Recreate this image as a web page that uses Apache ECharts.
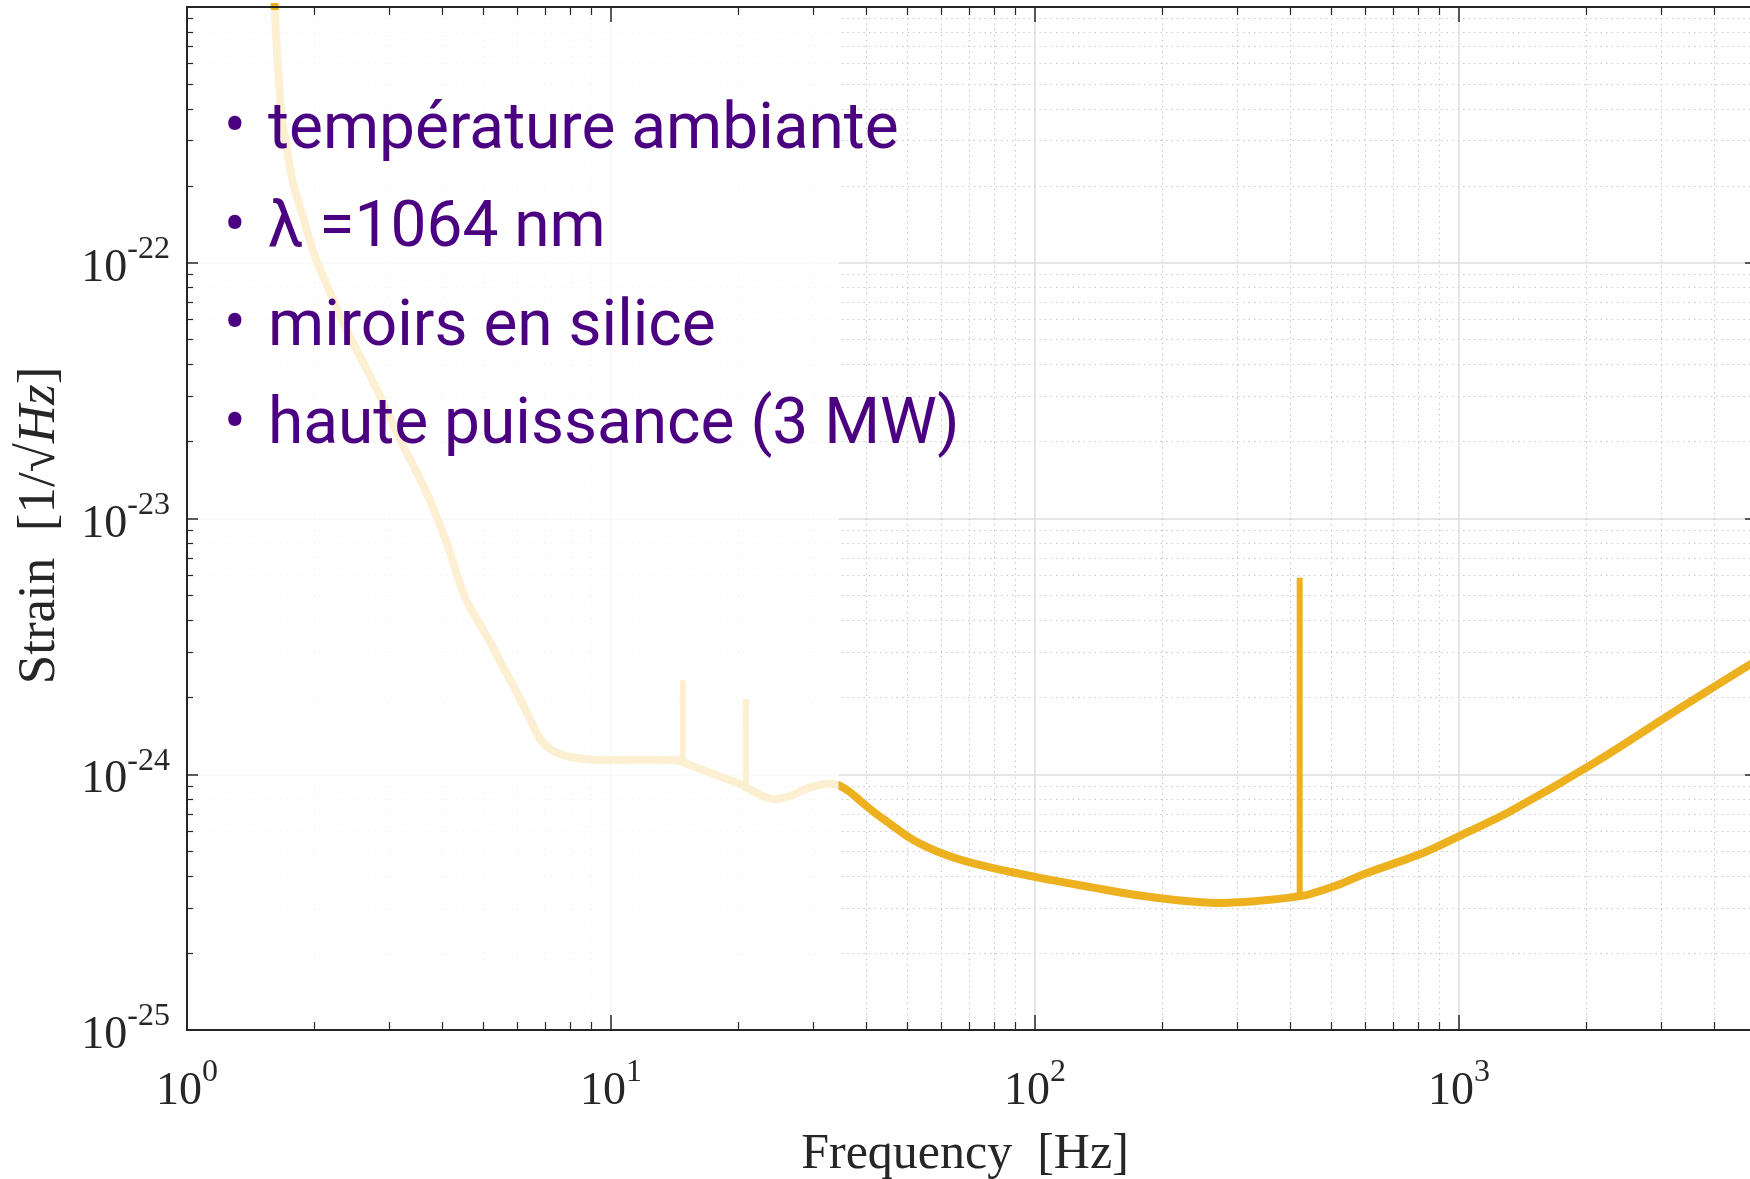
<!DOCTYPE html>
<html>
<head>
<meta charset="utf-8">
<script src="https://cdn.jsdelivr.net/npm/echarts@6/dist/echarts.min.js"></script>
<style>
  html, body { margin: 0; padding: 0; background: #fff; }
  #chart { width: 1750px; height: 1179px; }
</style>
</head>
<body>
<div id="chart"></div>
<script>
// sensitivity curve (Hz, 1/sqrt(Hz))
const freqHz = [
  1.56, 1.61, 1.67, 1.72, 1.78, 1.88, 1.99, 2.15, 2.35, 2.58, 2.84, 3.2, 3.65, 4.1, 4.53,
  5.13, 5.55, 6.0, 6.4, 6.79, 7.22, 7.7, 8.18, 9.57, 11.1, 12.7, 14.3, 14.77,
  15.25, 16.5, 17.8, 19.0, 20.2, 20.8, 22.2, 24.3, 26.7, 28.5, 30.2, 32.7, 34.4,
  36.5, 39.3, 42, 45.4, 51.5, 61.8, 74, 102, 135, 173, 220, 267, 330, 402, 421,
  440, 520, 602, 822, 1050, 1309, 2089, 3334, 4810, 5200
];
const strain = [
  4e-21, 1.0e-21, 3.8e-22, 2.8e-22, 2.04e-22, 1.5e-22, 1.09e-22, 8.0e-23, 5.7e-23, 4.2e-23, 3.06e-23, 2.0e-23, 1.29e-23, 8.0e-24, 4.9e-24,
  3.4e-24, 2.65e-24, 2.08e-24, 1.68e-24, 1.38e-24, 1.25e-24, 1.19e-24, 1.16e-24, 1.135e-24, 1.14e-24, 1.14e-24, 1.135e-24, 1.12e-24,
  1.09e-24, 1.04e-24, 9.9e-25, 9.5e-25, 9.15e-25, 8.9e-25, 8.4e-25, 7.98e-25, 8.27e-25, 8.7e-25, 8.97e-25, 9.2e-25, 9.06e-25,
  8.55e-25, 7.7e-25, 7.05e-25, 6.42e-25, 5.55e-25, 4.83e-25, 4.42e-25, 3.94e-25, 3.62e-25, 3.37e-25, 3.21e-25, 3.14e-25, 3.19e-25, 3.30e-25, 3.34e-25,
  3.38e-25, 3.7e-25, 4.09e-25, 4.92e-25, 5.95e-25, 7.1e-25, 1.11e-24, 1.82e-24, 2.66e-24, 2.85e-24
];
// narrow resonance lines
const spikeFreq = [14.77, 20.8, 421];
const spikeLow = [1.12e-24, 8.9e-25, 3.34e-25];
const spikeHigh = [2.33e-24, 1.97e-24, 5.87e-24];

// y axis runs in units of 1e-25 so that log minor ticks land on 2..9
const strainUnit = 1e-25;
const strainExp0 = -25;
// part of the band that is greyed out (Hz)
const fadedBand = [1, 34.4];
const bullets = ['température ambiante', 'λ =1064 nm', 'miroirs en silice', 'haute puissance (3 MW)'];

const serif = 'Liberation Serif';
const ink = '#262626';
const curveColor = '#EDB120';

function powLabel(shift, hideAt) {
  return function (v) {
    const lg = Math.log10(v);
    const e = Math.round(lg);
    if (Math.abs(lg - e) > 1e-6 || e === hideAt) return '';
    return '{b|10}{s|' + (e + shift) + '}';
  };
}
const powRich = {
  b: { fontFamily: serif, fontSize: 46, lineHeight: 58, verticalAlign: 'bottom', color: ink },
  s: { fontFamily: serif, fontSize: 32, lineHeight: 20, verticalAlign: 'top', color: ink }
};

const xRange = { type: 'log', logBase: 10, min: 1, max: 10000 };
const yRange = { type: 'log', logBase: 10, min: 1, max: 10000 };

function gridAxis(base, pos) {
  return Object.assign({}, base, {
    position: pos, z: 0,
    axisLine: { show: false }, axisTick: { show: false }, axisLabel: { show: false },
    splitLine: { show: true, lineStyle: { color: '#dedede', width: 1.5 } },
    minorTick: { show: false, splitNumber: 9 },
    minorSplitLine: { show: true, lineStyle: { color: '#c8c8c8', type: [1.5, 4], width: 1 } }
  });
}

function boxAxis(base, extra, tickLen, minorLen) {
  return Object.assign({}, base, {
    z: 10,
    axisLine: { show: true, lineStyle: { color: ink, width: 2 } },
    axisTick: { show: true, inside: true, length: tickLen, lineStyle: { color: ink, width: 1.5 } },
    minorTick: { show: true, splitNumber: 9, length: minorLen, lineStyle: { color: ink, width: 1.2 } },
    splitLine: { show: false },
    axisLabel: { show: false }
  }, extra);
}

const spikeData = [];
spikeFreq.forEach((f, i) => {
  spikeData.push([f, spikeLow[i] / strainUnit], [f, spikeHigh[i] / strainUnit], [f, spikeLow[i] / strainUnit], null);
});

const chart = echarts.init(document.getElementById('chart'));
chart.setOption({
  animation: false,
  backgroundColor: '#fff',
  grid: { left: 187, top: 7, width: 1696, height: 1023, containLabel: false, outerBoundsMode: 'none' },
  xAxis: [
    boxAxis(xRange, {
      position: 'bottom',
      axisLabel: { show: true, margin: 27, formatter: powLabel(0, null), rich: powRich, hideOverlap: false },
      name: 'Frequency  [Hz]', nameLocation: 'middle', nameGap: 100, nameMoveOverlap: false,
      nameTextStyle: { fontFamily: serif, fontSize: 50, color: ink, padding: [0, 140, 0, 0] }
    }, 15, 8),
    boxAxis(xRange, { position: 'top' }, 15, 8),
    gridAxis(xRange, 'bottom')
  ],
  yAxis: [
    boxAxis(yRange, {
      position: 'left',
      axisLabel: { show: true, margin: 17, formatter: powLabel(strainExp0, 4), rich: powRich, hideOverlap: false },
      name: 'Strain  [1/√{i|Hz}]', nameLocation: 'middle', nameGap: 120, nameRotate: 90, nameMoveOverlap: false,
      nameTextStyle: {
        fontFamily: serif, fontSize: 53, color: ink, padding: [0, 14, 0, 0],
        rich: { i: { fontFamily: serif, fontSize: 53, fontStyle: 'italic', color: ink } }
      }
    }, 11, 6),
    boxAxis(yRange, { position: 'right', offset: -127 }, 11, 6),
    gridAxis(yRange, 'left')
  ],
  series: [{
    type: 'line',
    xAxisIndex: 0,
    yAxisIndex: 0,
    z: 2,
    showSymbol: false,
    clip: true,
    smooth: 0.3,
    lineStyle: { color: curveColor, width: 8, join: 'round' },
    data: freqHz.map((f, i) => [f, strain[i] / strainUnit])
  }, {
    type: 'line',
    xAxisIndex: 0,
    yAxisIndex: 0,
    z: 2,
    showSymbol: false,
    connectNulls: false,
    lineStyle: { color: curveColor, width: 6 },
    data: spikeData
  }]
});

const p0 = chart.convertToPixel({ xAxisIndex: 0, yAxisIndex: 0 }, [fadedBand[0], 10000]);
const p1 = chart.convertToPixel({ xAxisIndex: 0, yAxisIndex: 0 }, [fadedBand[1], 1]);

const graphics = [{
  type: 'rect', z: 5, silent: true,
  shape: { x: p0[0] + 1, y: p0[1] + 3, width: p1[0] - p0[0] - 1, height: p1[1] - p0[1] - 4 },
  style: { fill: 'rgba(255,255,255,0.8)' }
}];
bullets.forEach((t, i) => {
  const y = 131.5 + i * 98.5;
  graphics.push({
    type: 'text', z: 20, x: 235, y: y,
    style: { text: '•', fontFamily: 'Roboto', fontSize: 66, fill: '#4B0082', textAlign: 'center', textVerticalAlign: 'middle', align: 'center', verticalAlign: 'middle' }
  });
  graphics.push({
    type: 'text', z: 20, x: 268, y: y,
    style: { text: t, fontFamily: 'Roboto', fontSize: 64, fill: '#4B0082', textAlign: 'left', textVerticalAlign: 'middle', align: 'left', verticalAlign: 'middle' }
  });
});
chart.setOption({ graphic: graphics });
</script>
</body>
</html>
